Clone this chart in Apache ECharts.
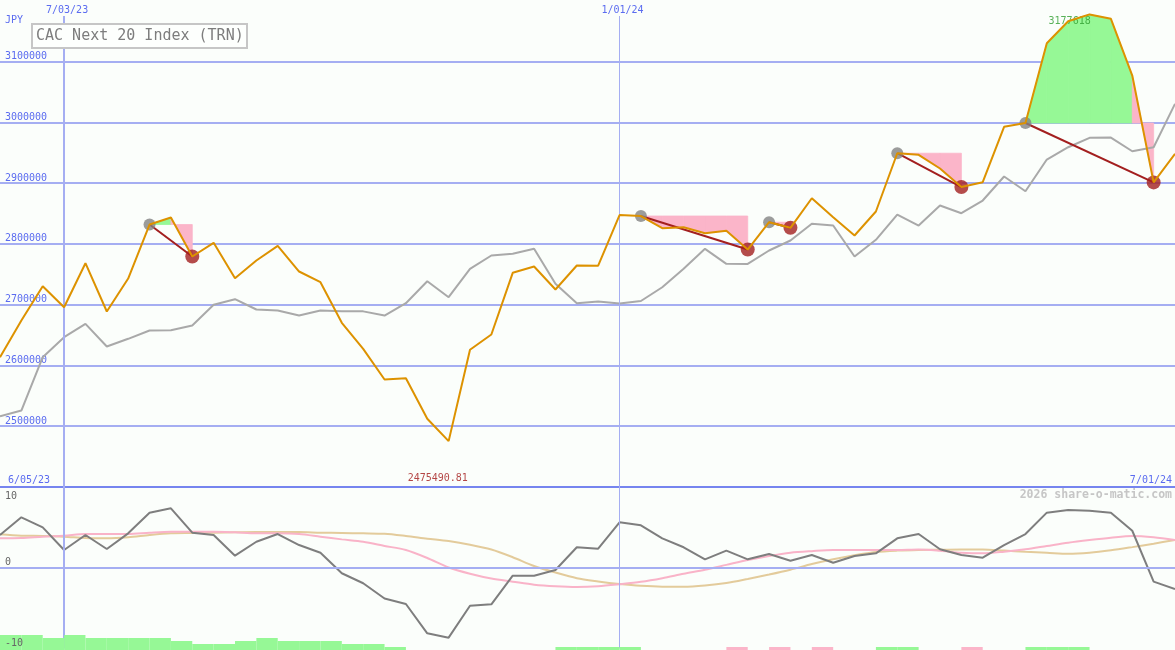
<!DOCTYPE html>
<html><head><meta charset="utf-8">
<style>html,body{margin:0;padding:0;background:#fbfefb;}#c{width:1175px;height:650px;}</style>
<script src="https://cdn.jsdelivr.net/npm/echarts@6/dist/echarts.min.js"></script>
</head><body><div id="c"></div>
<script>
// ---------- data ----------
const chartTitle = 'CAC Next 20 Index (TRN)';
const currency = 'JPY';
const watermark = '2026 share-o-matic.com';
const firstPointDate = '2023-06-12';
const rangeLabels = ['6/05/23', '7/01/24'];
const markerDates = ['2023-07-03', '2024-01-01'];
const markerLabels = ['7/03/23', '1/01/24'];
const priceAxis = [2400000, 3175000, 100000];   // min, max, step
const oscAxis = [-10, 10, 10];
const oscTopLabel = '10';

const priceValues = [2613560, 2673940, 2730380, 2695830, 2768220, 2688750, 2743050, 2831890, 2843410, 2779240,
  2801780, 2743540, 2772660, 2796850, 2754560, 2736960, 2670160, 2627380, 2576870, 2579010,
  2512210, 2475490.81, 2625740, 2650910, 2752420, 2762790, 2724950, 2764430, 2764100, 2847520,
  2845880, 2825800, 2827450, 2817580, 2821530, 2790760, 2835680, 2826460, 2875160, 2843900,
  2813790, 2853280, 2949200, 2946570, 2924030, 2893590, 2901490, 2992640, 2998890, 3130180,
  3166380, 3177618, 3170330, 3077040, 2901200, 2948210];
const benchmarkValues = [2516490, 2525870, 2613560, 2646470, 2668510, 2631170, 2643830, 2657490, 2658000, 2665720,
  2699770, 2708990, 2692040, 2690400, 2682170, 2690400, 2689240, 2689000, 2682170, 2702410,
  2738600, 2712280, 2759000, 2780890, 2783680, 2791910, 2734330, 2702410, 2705200, 2702000,
  2706030, 2728730, 2759000, 2791910, 2767230, 2767000, 2789110, 2805560, 2833040, 2830250,
  2779240, 2806720, 2848340, 2830250, 2863150, 2850480, 2871380, 2910870, 2886680, 2938840,
  2959070, 2974540, 2975000, 2952490, 2959070, 3030480];
// [peak index, trough index]
const drawdownEvents = [[7, 9], [30, 35], [36, 37], [42, 45], [48, 54]];

const oscillator = [4.04, 6.24, 5.0, 2.19, 4.05, 2.32, 4.26, 6.82, 7.36, 4.34,
  4.05, 1.49, 3.22, 4.17, 2.81, 1.86, -0.69, -1.93, -3.82, -4.5,
  -8.13, -8.67, -4.71, -4.54, -0.99, -0.99, -0.29, 2.53, 2.36, 5.63,
  5.25, 3.64, 2.53, 1.04, 2.11, 1.04, 1.7, 0.87, 1.57, 0.62,
  1.45, 1.78, 3.64, 4.17, 2.28, 1.57, 1.24, 2.81, 4.17, 6.82,
  7.15, 7.06, 6.82, 4.58, -1.73, -2.64];
const oscFast = [3.64, 3.68, 3.84, 3.97, 4.17, 4.17, 4.17, 4.34, 4.46, 4.46,
  4.46, 4.38, 4.26, 4.26, 4.17, 3.84, 3.51, 3.22, 2.7, 2.19,
  1.2, 0.02, -0.75, -1.35, -1.73, -2.1, -2.3, -2.39, -2.3, -2.05,
  -1.75, -1.3, -0.75, -0.25, 0.35, 0.95, 1.45, 1.85, 2.05, 2.19,
  2.19, 2.19, 2.19, 2.25, 2.1, 1.86, 1.78, 1.98, 2.28, 2.69,
  3.1, 3.43, 3.72, 3.93, 3.77, 3.43];
const oscSlow = [4.14, 3.97, 3.93, 3.84, 3.68, 3.64, 3.77, 4.05, 4.26, 4.3,
  4.34, 4.38, 4.42, 4.42, 4.42, 4.34, 4.3, 4.26, 4.2, 3.93,
  3.6, 3.3, 2.85, 2.25, 1.3, 0.21, -0.6, -1.3, -1.7, -2.02,
  -2.25, -2.35, -2.35, -2.2, -1.9, -1.4, -0.85, -0.25, 0.45, 1.05,
  1.55, 1.95, 2.12, 2.2, 2.22, 2.25, 2.25, 2.12, 1.98, 1.86,
  1.72, 1.85, 2.15, 2.55, 2.98, 3.43];
// one value per week interval (between point j and j+1)
const signalBars = [5, 5, 4, 5, 4, 4, 4, 4, 3, 2, 2, 3, 4, 3, 3, 3, 2, 2, 1, 0,
  0, 0, 0, 0, 0, 0, 1, 1, 1, 1, 0, 0, 0, 0, -1, 0, -1, 0, -1, 0,
  0, 1, 1, 0, 0, -1, 0, 0, 1, 1, 1, 0, 0, 0, 0];

// ---------- styling ----------
const FONT = '"DejaVu Sans Mono", monospace';
const BLUE_TXT = '#5b6cf0';
const GRID_C = '#a5aef2';
const SEP_C = '#7685ef';
const GREEN = '#96f896';
const PINK = '#fbb5c9';
const ORANGE = '#dd9200';
const DARKRED = '#a31f1f';

const WEEK = 7 * 864e5;
const markerIdx = markerDates.map(d => (Date.parse(d) - Date.parse(firstPointDate)) / WEEK);
const lastIdx = priceValues.length - 1;
const pts = arr => arr.map((v, i) => [i, v]);
const vMax = Math.max(...priceValues), vMin = Math.min(...priceValues);
const iMax = priceValues.indexOf(vMax), iMin = priceValues.indexOf(vMin);

const fillItems = [];
drawdownEvents.forEach(([p, t]) => {
  const lvl = priceValues[p];
  for (let k = p; k < t; k++) {
    fillItems.push([k, lvl, priceValues[k], priceValues[k + 1], priceValues[k + 1] >= lvl ? 1 : 0]);
  }
});
const connectorItems = drawdownEvents.map(([p, t]) => [p, priceValues[p], t, priceValues[t]]);

const topMarkLine = {
  silent: true, symbol: ['none', 'none'], animation: false,
  data: markerIdx.map((x, i) => ({
    xAxis: x,
    lineStyle: { color: GRID_C, width: i === 0 ? 2 : 1, type: 'solid' },
    label: { show: true, position: 'end', formatter: markerLabels[i], color: BLUE_TXT,
      fontFamily: FONT, fontSize: 10, distance: 1, padding: [0, 0, 0, 6] }
  }))
};
const bottomMarkLine = {
  silent: true, symbol: ['none', 'none'], animation: false,
  data: markerIdx.map((x, i) => ({
    xAxis: x, lineStyle: { color: GRID_C, width: i === 0 ? 2 : 1, type: 'solid' }, label: { show: false }
  }))
};

const topSplitColors = [SEP_C];
for (let v = priceAxis[0] + priceAxis[2]; v <= priceAxis[1] - priceAxis[2] / 2; v += priceAxis[2]) topSplitColors.push(GRID_C);
topSplitColors.push('rgba(0,0,0,0)');

const chart = echarts.init(document.getElementById('c'));
chart.setOption({
  animation: false,
  backgroundColor: '#fbfefb',
  title: {
    text: chartTitle, left: 32, top: 24, padding: [3, 4, 3, 4],
    borderWidth: 2, borderColor: '#c6c6c6', backgroundColor: '#fdfffd',
    textStyle: { fontFamily: FONT, fontSize: 15, fontWeight: 'normal', color: '#7d7d7d', lineHeight: 18 }
  },
  graphic: [
    { type: 'text', left: 5, top: 15, style: { text: currency, font: '10px ' + FONT, fill: BLUE_TXT } },
    { type: 'text', left: 5, top: 491, style: { text: oscTopLabel, font: '10px ' + FONT, fill: '#666' } },
    { type: 'text', right: 3, top: 489, style: { text: watermark, font: 'bold 11.5px ' + FONT, fill: '#c6c6c6' } }
  ],
  grid: [
    { left: 0, right: 0, top: 16, height: 471 },
    { left: 0, right: 0, top: 487, height: 161.4 },
    { left: 0, right: 0, top: 635, height: 15 }
  ],
  xAxis: [
    { type: 'value', gridIndex: 0, min: 0, max: lastIdx, interval: lastIdx,
      axisLine: { show: false }, axisTick: { show: false }, splitLine: { show: false },
      axisLabel: { inside: true, margin: 2, color: BLUE_TXT, fontFamily: FONT, fontSize: 10,
        alignMinLabel: 'left', alignMaxLabel: 'right', padding: [0, 3, 0, 8],
        formatter: v => v === 0 ? rangeLabels[0] : rangeLabels[1] } },
    { type: 'value', gridIndex: 1, min: 0, max: lastIdx, show: false },
    { type: 'value', gridIndex: 2, min: 0, max: lastIdx, show: false }
  ],
  yAxis: [
    { type: 'value', gridIndex: 0, min: priceAxis[0], max: priceAxis[1], interval: priceAxis[2],
      axisLine: { show: false }, axisTick: { show: false },
      splitLine: { show: true, lineStyle: { color: topSplitColors, width: 2 } },
      axisLabel: { inside: true, margin: 5, color: BLUE_TXT, fontFamily: FONT, fontSize: 10,
        verticalAlign: 'bottom', showMinLabel: false, showMaxLabel: false, formatter: v => String(v) } },
    { type: 'value', gridIndex: 1, min: oscAxis[0], max: oscAxis[1], interval: oscAxis[2], z: 10,
      axisLine: { show: false }, axisTick: { show: false },
      splitLine: { show: true, lineStyle: { color: ['rgba(0,0,0,0)', GRID_C, 'rgba(0,0,0,0)'], width: 2 } },
      axisLabel: { inside: true, margin: 5, color: '#666', fontFamily: FONT, fontSize: 10,
        verticalAlign: 'bottom', showMinLabel: true, showMaxLabel: false, formatter: v => String(v) } },
    { type: 'value', gridIndex: 2, min: 0, max: 5, show: false }
  ],
  series: [
    { type: 'custom', name: 'fills', xAxisIndex: 0, yAxisIndex: 0, z: 1, silent: true,
      data: fillItems,
      renderItem: (params, api) => {
        const j = api.value(0), lvl = api.value(1), a = api.value(2), b = api.value(3), up = api.value(4);
        const c = up ? GREEN : PINK;
        return { type: 'polygon',
          shape: { points: [api.coord([j, lvl]), api.coord([j, a]), api.coord([j + 1, b]), api.coord([j + 1, lvl])] },
          style: { fill: c, stroke: c, lineWidth: 0.8 } };
      } },
    { type: 'line', name: 'benchmark', xAxisIndex: 0, yAxisIndex: 0, z: 2, data: pts(benchmarkValues),
      showSymbol: false, clip: false, lineStyle: { color: '#a9a9a9', width: 2 }, markLine: topMarkLine },
    { type: 'scatter', name: 'extremes', xAxisIndex: 0, yAxisIndex: 0, z: 2, clip: false, silent: true,
      symbolSize: 1, itemStyle: { color: 'rgba(0,0,0,0)' },
      label: { show: true, formatter: p => String(p.value[1]), fontFamily: FONT, fontSize: 10,
        align: 'left', verticalAlign: 'top' },
      data: [
        { value: [iMax, vMax], label: { position: [-40.5, 2], color: '#2f9e2f' } },
        { value: [iMin, vMin], label: { position: [-40.5, 33], color: '#a31818' } }
      ] },
    { type: 'custom', name: 'connectors', xAxisIndex: 0, yAxisIndex: 0, z: 3, silent: true,
      data: connectorItems,
      renderItem: (params, api) => {
        const a = api.coord([api.value(0), api.value(1)]), b = api.coord([api.value(2), api.value(3)]);
        return { type: 'line', shape: { x1: a[0], y1: a[1], x2: b[0], y2: b[1] },
          style: { stroke: DARKRED, lineWidth: 2 } };
      } },
    { type: 'scatter', name: 'peaks', xAxisIndex: 0, yAxisIndex: 0, z: 4, symbolSize: 12,
      itemStyle: { color: '#838383' }, data: drawdownEvents.map(e => [e[0], priceValues[e[0]]]) },
    { type: 'scatter', name: 'troughs', xAxisIndex: 0, yAxisIndex: 0, z: 4, symbolSize: 14,
      itemStyle: { color: DARKRED }, data: drawdownEvents.map(e => [e[1], priceValues[e[1]]]) },
    { type: 'line', name: 'price', xAxisIndex: 0, yAxisIndex: 0, z: 5, data: pts(priceValues),
      showSymbol: false, clip: false, lineStyle: { color: ORANGE, width: 2 } },
    { type: 'line', name: 'slow', xAxisIndex: 1, yAxisIndex: 1, z: 2, data: pts(oscSlow), smooth: 0.3,
      showSymbol: false, lineStyle: { color: '#e3cb9b', width: 2 } },
    { type: 'line', name: 'fast', xAxisIndex: 1, yAxisIndex: 1, z: 3, data: pts(oscFast), smooth: 0.3,
      showSymbol: false, lineStyle: { color: '#f9b3c8', width: 2 } },
    { type: 'line', name: 'osc', xAxisIndex: 1, yAxisIndex: 1, z: 4, data: pts(oscillator),
      showSymbol: false, lineStyle: { color: '#7e7e7e', width: 2 }, markLine: bottomMarkLine },
    { type: 'custom', name: 'signal', xAxisIndex: 2, yAxisIndex: 2, z: 5, silent: true,
      data: signalBars.map((v, j) => [j, v]),
      renderItem: (params, api) => {
        const j = api.value(0), v = api.value(1);
        if (!v) return null;
        const p0 = api.coord([j, Math.abs(v)]), p1 = api.coord([j + 1, 0]);
        return { type: 'rect', shape: { x: p0[0], y: p0[1], width: p1[0] - p0[0], height: p1[1] - p0[1] },
          style: { fill: v > 0 ? GREEN : PINK } };
      } }
  ]
});
</script></body></html>
